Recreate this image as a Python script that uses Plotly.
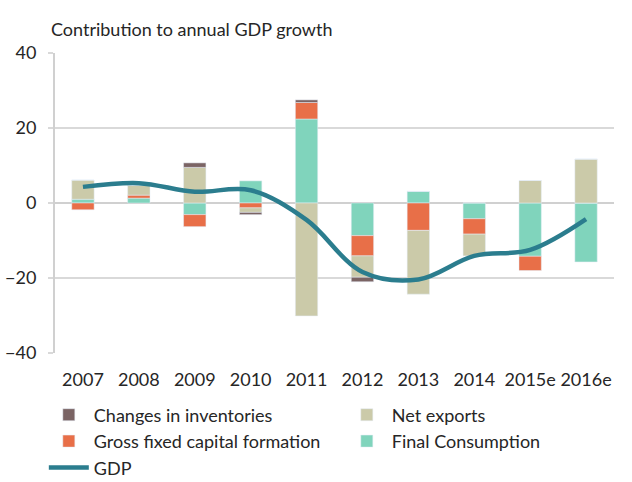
import plotly.graph_objects as go

years = ["2007", "2008", "2009", "2010", "2011", "2012", "2013", "2014", "2015e", "2016e"]
final_consumption = [1.0, 1.3, -3.1, 5.9, 22.4, -8.7, 3.1, -4.2, -14.2, -15.7]
gross_fixed_capital = [-1.8, 0.8, -3.2, -1.3, 4.4, -5.4, -7.3, -4.1, -3.8, 0.0]
net_exports = [5.1, 2.6, 9.5, -1.2, -30.1, -5.7, -17.0, -5.8, 6.0, 11.7]
inventories = [0.0, 0.0, 1.2, -0.6, 0.7, -1.2, 0.0, 0.0, 0.0, 0.0]
gdp = [4.3, 5.3, 3.0, 3.4, -4.5, -18.4, -20.4, -14.1, -12.5, -4.3]

FONT = "Lato"
TXT = "#262626"
fig = go.Figure()
fig.add_trace(go.Bar(x=years, y=final_consumption, name="Final Consumption",
                     marker_color="#80d4bc", width=0.4, legendrank=4))
fig.add_trace(go.Bar(x=years, y=gross_fixed_capital, name="Gross fixed capital formation",
                     marker_color="#e86f48", width=0.4, legendrank=3))
fig.add_trace(go.Bar(x=years, y=net_exports, name="Net exports",
                     marker_color="#cbcaa9", width=0.4, legendrank=2))
fig.add_trace(go.Bar(x=years, y=inventories, name="Changes in inventories",
                     marker_color="#7b6464", width=0.4, legendrank=1))
fig.add_trace(go.Scatter(x=years, y=gdp, name="GDP", mode="lines",
                         line=dict(color="#2b7d8e", width=4.5, shape="spline", smoothing=1.0),
                         legendrank=5))

fig.update_layout(
    width=632, height=482,
    barmode="relative",
    plot_bgcolor="white", paper_bgcolor="white",
    margin=dict(l=55, r=18, t=53, b=129, autoexpand=False),
    font=dict(family=FONT, size=18, color=TXT),
    showlegend=True,
    legend=dict(orientation="h", x=-0.02, y=-0.145, xanchor="left", yanchor="top",
                entrywidth=243, entrywidthmode="pixels", traceorder="normal",
                font=dict(family=FONT, size=18, color=TXT),
                itemwidth=40, tracegroupgap=0, bgcolor="rgba(0,0,0,0)"),
    annotations=[dict(text="Contribution to annual GDP growth", xref="paper", yref="paper",
                      x=-0.01, y=1.08, xanchor="left", yanchor="middle", showarrow=False,
                      font=dict(family=FONT, size=18, color=TXT))],
)
fig.update_yaxes(range=[-40, 40], tickvals=[-40, -20, 0, 20, 40], showgrid=True,
                 gridcolor="#d9d9d9", gridwidth=2, zeroline=True, zerolinecolor="#d0d0d0",
                 zerolinewidth=2, showline=True, linecolor="#d0d0d0", linewidth=2,
                 ticks="outside", ticklen=5, tickcolor="#d9d9d9", tickwidth=2,
                 ticklabelstandoff=8, tickfont=dict(size=18))
fig.update_xaxes(showgrid=False, showline=False, ticks="", ticklabelstandoff=14,
                 tickfont=dict(size=18))

fig.write_html("out.html")
